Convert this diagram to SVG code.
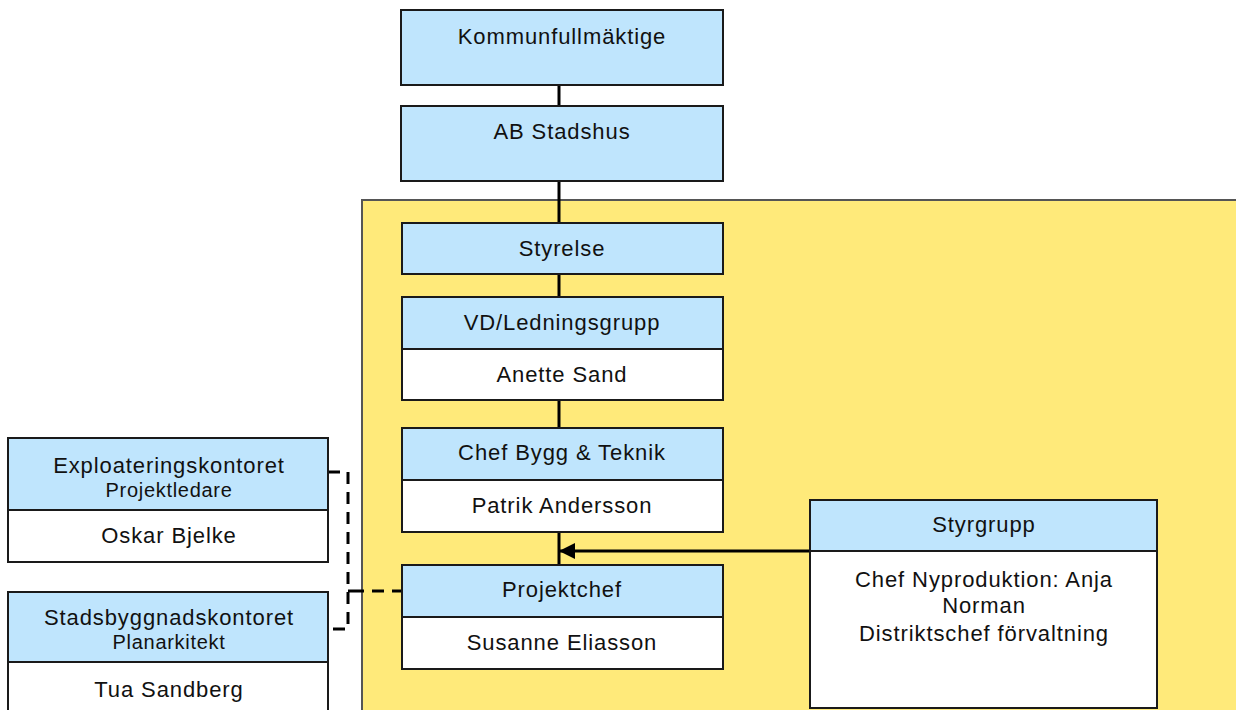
<svg xmlns="http://www.w3.org/2000/svg" width="1236" height="710" viewBox="0 0 1236 710">
<defs>
<style>
.b{fill:#bfe5fd;stroke:#1a1a1a;stroke-width:2}
.w{fill:#ffffff;stroke:#1a1a1a;stroke-width:2}
.t{font-family:"Liberation Sans",Arial,sans-serif;font-size:22px;letter-spacing:0.9px;fill:#111;text-anchor:middle}
.s{font-family:"Liberation Sans",Arial,sans-serif;font-size:20px;letter-spacing:0.7px;fill:#111;text-anchor:middle}
.c{fill:none;stroke:#000;stroke-width:3}
.d{fill:none;stroke:#000;stroke-width:3;stroke-dasharray:12 8}
</style>
<marker id="ah" markerWidth="16" markerHeight="16" refX="15" refY="8" orient="auto" markerUnits="userSpaceOnUse">
<path d="M0,0 L16,8 L0,16 Z" fill="#000"/>
</marker>
</defs>
<rect width="1236" height="710" fill="#ffffff"/>
<rect id="yellow" x="362" y="200" width="880" height="516" fill="#ffea7a" stroke="#555" stroke-width="2"/>
<g id="connectors">
<line class="c" x1="559" y1="85" x2="559" y2="106"/>
<line class="c" x1="559" y1="181" x2="559" y2="223"/>
<line class="c" x1="559" y1="274" x2="559" y2="297"/>
<line class="c" x1="559" y1="400" x2="559" y2="428"/>
<line class="c" x1="559" y1="532" x2="559" y2="565"/>
<line class="c" x1="810" y1="551" x2="560" y2="551" marker-end="url(#ah)"/>
<polyline class="d" points="328,472 348,472 348,629 328,629"/>
<polyline class="d" points="352,591 402,591"/>
<polyline class="c" points="348,591 352,591"/>
</g>
<g id="kommunfullmaktige">
<rect class="b" x="401" y="10" width="322" height="75"/>
<text class="t" x="562" y="44">Kommunfullmäktige</text>
</g>
<g id="ab-stadshus">
<rect class="b" x="401" y="106" width="322" height="75"/>
<text class="t" x="562" y="139">AB Stadshus</text>
</g>
<g id="styrelse">
<rect class="b" x="402" y="223" width="321" height="51"/>
<text class="t" x="562" y="256">Styrelse</text>
</g>
<g id="vd">
<rect class="b" x="402" y="297" width="321" height="52"/>
<rect class="w" x="402" y="349" width="321" height="51"/>
<text class="t" x="562" y="330">VD/Ledningsgrupp</text>
<text class="t" x="562" y="382">Anette Sand</text>
</g>
<g id="chef-bygg">
<rect class="b" x="402" y="428" width="321" height="52"/>
<rect class="w" x="402" y="480" width="321" height="52"/>
<text class="t" x="562" y="460">Chef Bygg &amp; Teknik</text>
<text class="t" x="562" y="513">Patrik Andersson</text>
</g>
<g id="projektchef">
<rect class="b" x="402" y="565" width="321" height="52"/>
<rect class="w" x="402" y="617" width="321" height="52"/>
<text class="t" x="562" y="597">Projektchef</text>
<text class="t" x="562" y="650">Susanne Eliasson</text>
</g>
<g id="styrgrupp">
<rect class="b" x="810" y="500" width="347" height="51"/>
<rect class="w" x="810" y="551" width="347" height="157"/>
<text class="t" x="984" y="532">Styrgrupp</text>
<text class="t" x="984" y="587">Chef Nyproduktion: Anja</text>
<text class="t" x="984" y="613">Norman</text>
<text class="t" x="984" y="641">Distriktschef förvaltning</text>
</g>
<g id="exploatering">
<rect class="b" x="8" y="438" width="320" height="72"/>
<rect class="w" x="8" y="510" width="320" height="52"/>
<text class="t" x="169" y="473">Exploateringskontoret</text>
<text class="s" x="169" y="497">Projektledare</text>
<text class="t" x="169" y="543">Oskar Bjelke</text>
</g>
<g id="stadsbyggnad">
<rect class="b" x="8" y="592" width="320" height="70"/>
<rect class="w" x="8" y="662" width="320" height="52"/>
<text class="t" x="169" y="625">Stadsbyggnadskontoret</text>
<text class="s" x="169" y="649">Planarkitekt</text>
<text class="t" x="169" y="697">Tua Sandberg</text>
</g>
</svg>
